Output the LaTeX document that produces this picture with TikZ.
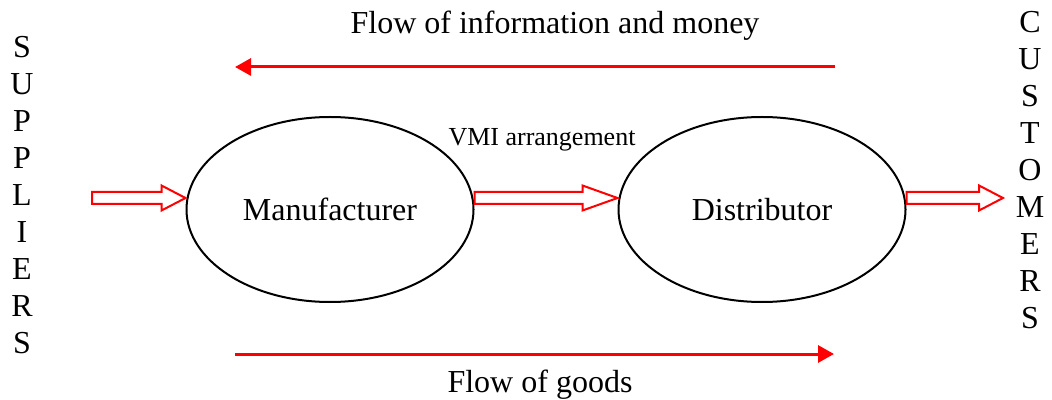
\documentclass[tikz,border=0pt]{standalone}
\usepackage{fontspec}
\setmainfont{Liberation Serif}
\usetikzlibrary{arrows.meta,calc,shapes.geometric}

\tikzset{
  hollow/.style={draw=red, line width=1pt, fill=white, to path={
      let \p1=(\tikztostart), \p2=(\tikztotarget) in
      (\x1,\y1+3pt) -- (\x2-#1,\y1+3pt) -- (\x2-#1,\y1+6.25pt) -- (\x2,\y1)
      -- (\x2-#1,\y1-6.25pt) -- (\x2-#1,\y1-3pt) -- (\x1,\y1-3pt) -- cycle}}
}

\begin{document}
\begin{tikzpicture}[x=0.5pt,y=-0.5pt]
\useasboundingbox (0,0) rectangle (1052,400);

\begin{scope}[every node/.style={ellipse,draw,line width=1pt,inner sep=0pt,
              minimum width=143.5pt,minimum height=92.5pt,
              font=\fontsize{16}{19}\selectfont}]
    \node (manu) at (330,209.5) {Manufacturer};
    \node (dist) at (762,209.5) {Distributor};
\end{scope}

\begin{scope}[every node/.style={inner sep=0pt,font=\fontsize{16}{18.5}\selectfont}]
    \node (info) at (555,26) {Flow of information and money};
    \node (goods) at (540,385) {Flow of goods};
    \node[font=\fontsize{13}{15}\selectfont] (vmi) at (542,140) {VMI arrangement};
    \node[align=center] (sup) at (22,195) {S\\U\\P\\P\\L\\I\\E\\R\\S};
    \node[align=center] (cust) at (1030,170) {C\\U\\S\\T\\O\\M\\E\\R\\S};
\end{scope}

\coordinate (supin) at (92,198);
\coordinate (custout) at (1003,198);
\coordinate (infoR) at (835,67);
\coordinate (infoL) at (235,67);
\coordinate (goodsL) at (235,354);
\coordinate (goodsR) at (834,354);

% block arrows
\draw[hollow=12pt] (supin) to (manu.west);
\draw[hollow=17.5pt] (manu.east |- supin) to (dist.west);
\draw[hollow=12pt] (dist.east |- supin) to (custout);

\begin{scope}[>={Triangle[length=8pt,width=8.5pt]},
              every edge/.style={draw=red,line width=1.5pt}]
    \path [->] (infoR) edge (infoL);
    \path [->] (goodsL) edge (goodsR);
\end{scope}
\end{tikzpicture}
\end{document}
